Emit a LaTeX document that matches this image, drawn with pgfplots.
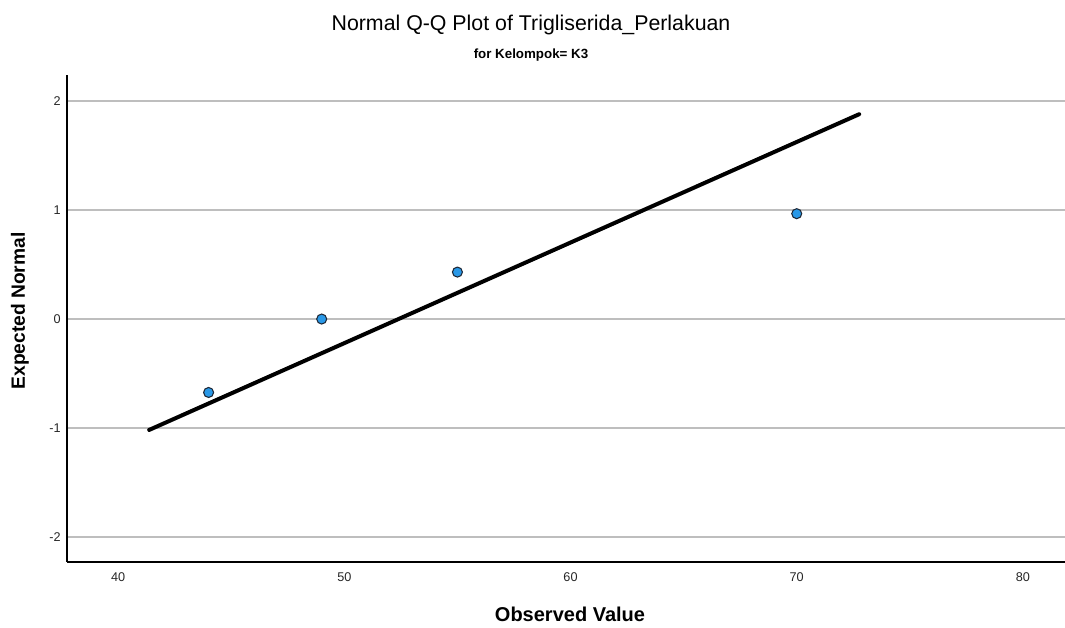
\documentclass[border=0pt]{standalone}
\usepackage{pgfplots}
\pgfplotsset{compat=1.18}
\usepackage{fontspec}
\setmainfont{Liberation Sans}
\definecolor{ptfill}{RGB}{41,152,231}
\definecolor{ptedge}{RGB}{30,40,55}
\definecolor{gridc}{RGB}{190,190,190}
\begin{document}
\begin{tikzpicture}
\useasboundingbox (0,0) rectangle (798.75pt,471pt);
\begin{axis}[
  at={(50.25pt,49.5pt)}, anchor=south west,
  scale only axis, width=748.5pt, height=365.25pt,
  xmin=37.74, xmax=81.86, ymin=-2.23, ymax=2.24,
  axis x line*=bottom, axis y line*=left,
  axis line style={black, line width=1pt, -},
  xtick={40,50,60,70,80}, ytick={-2,-1,0,1,2},
  major tick length=0pt,
  ymajorgrids, grid style={gridc, line width=1pt},
  /pgf/number format/assume math mode=true,
  tick label style={font=\fontsize{9.5}{11}\selectfont, text=black!85},
  xticklabel style={anchor=center, inner sep=0pt, yshift=-11.6pt},
  yticklabel style={anchor=east, inner sep=0pt, xshift=-4.5pt},
  clip=false,
]
\addplot[black, line width=3pt, line cap=round] coordinates {(41.37,-1.018) (72.76,1.880)};
\addplot[only marks, mark=*, mark size=3.75pt, mark options={fill=ptfill, draw=ptedge, line width=0.8pt}]
  coordinates {(44,-0.674) (49,0) (55,0.431) (70,0.967)};
\end{axis}
\node at (398.25pt,452.25pt) {\fontsize{16}{18}\selectfont Normal Q-Q Plot of Trigliserida\_Perlakuan};
\node at (398.25pt,429.75pt) {\fontsize{10}{12}\selectfont\bfseries for Kelompok= K3};
\node at (427.5pt,10.5pt) {\fontsize{15}{17}\selectfont\bfseries Observed Value};
\node[rotate=90] at (15pt,237.75pt) {\fontsize{14.4}{17}\selectfont\bfseries Expected Normal};
\end{tikzpicture}
\end{document}
